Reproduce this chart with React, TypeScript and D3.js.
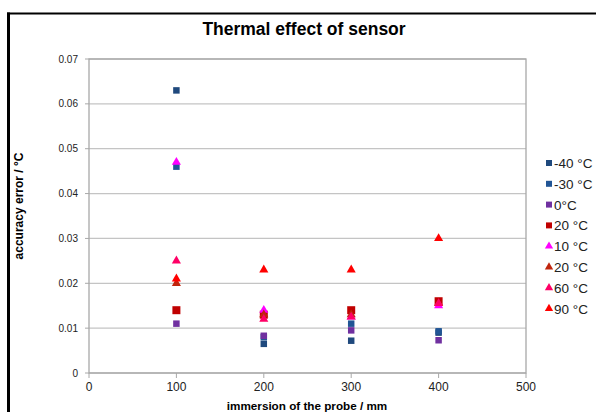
import React from "react";
import * as d3 from "d3";

const depths = [100, 200, 300, 400];
const m40 = [0.063, 0.0065, 0.0072, 0.009];
const m30 = [0.046, 0.008, 0.011, 0.0093];
const zero = [0.011, 0.0083, 0.0095, 0.0073];
const sq20 = [0.014, 0.013, 0.014, 0.016];
const t10 = [0.047, 0.014, 0.0125, 0.015];
const t20 = [0.02, 0.013, 0.013, 0.0155];
const t60 = [0.025, 0.012, 0.0125, 0.0155];
const t90 = [0.021, 0.023, 0.023, 0.03];
const seriesNames = ["-40 °C", "-30 °C", "0°C", "20 °C", "10 °C", "20 °C", "60 °C", "90 °C"];
const seriesColors = ["#1F497D", "#215595", "#7030A0", "#C00000", "#FF00FF", "#C0250D", "#FF0066", "#FF0000"];
const seriesShapes = ["square", "square", "square", "square", "triangle", "triangle", "triangle", "triangle"];
const seriesValues = [m40, m30, zero, sq20, t10, t20, t60, t90];
const xTicks = [0, 100, 200, 300, 400, 500];
const yTicks = [0, 0.01, 0.02, 0.03, 0.04, 0.05, 0.06, 0.07];

const W = 596, H = 412;
const left = 89, right = 526, top = 59, bottom = 373;

export default function App() {
  const x = d3.scaleLinear().domain([0, 500]).range([left, right]);
  const y = d3.scaleLinear().domain([0, 0.07]).range([bottom, top]);
  const sym = (shape: string, size: number) =>
    d3.symbol().type(shape === "square" ? d3.symbolSquare : d3.symbolTriangle).size(size)() as string;
  const font = "'Liberation Sans', Arial, sans-serif";

  return (
    <svg width={W} height={H} style={{ position: "absolute", left: 0, top: 0, background: "#fff" }} fontFamily={font}>
      <rect x={0} y={0} width={W} height={H} fill="#fff" />
      {/* outer frame */}
      <line x1={7} x2={W} y1={13.5} y2={13.5} stroke="#000" strokeWidth={2} />
      <line x1={8.5} x2={8.5} y1={12.5} y2={H} stroke="#000" strokeWidth={3} />
      {/* title */}
      <text x={304} y={35} textAnchor="middle" fontSize={17.5} fontWeight="bold" fill="#000">
        Thermal effect of sensor
      </text>
      {/* gridlines */}
      {yTicks.map((t) => (
        <line key={"g" + t} x1={left} x2={right} y1={y(t)} y2={y(t)} stroke="#c4c4c4" strokeWidth={1.3} />
      ))}
      {/* plot frame */}
      <rect x={left} y={top} width={right - left} height={bottom - top} fill="none" stroke="#a8a8a8" strokeWidth={1.3} />
      {/* y ticks */}
      {yTicks.map((t) => (
        <g key={"y" + t}>
          <line x1={left - 4} x2={left} y1={y(t)} y2={y(t)} stroke="#a8a8a8" />
          <text x={78} y={y(t) + 3.5} textAnchor="end" fontSize={10} fill="#222">
            {t === 0 ? "0" : t.toFixed(2)}
          </text>
        </g>
      ))}
      {/* x ticks */}
      {xTicks.map((t) => (
        <g key={"x" + t}>
          <line x1={x(t)} x2={x(t)} y1={bottom} y2={bottom + 5} stroke="#a8a8a8" />
          <text x={x(t)} y={391} textAnchor="middle" fontSize={12} fill="#222">
            {t}
          </text>
        </g>
      ))}
      {/* axis titles */}
      <text x={307} y={410} textAnchor="middle" fontSize={11.7} fontWeight="bold" fill="#000">
        immersion of the probe / mm
      </text>
      <text transform={`translate(23,206) rotate(-90)`} textAnchor="middle" fontSize={12} fontWeight="bold" fill="#000">
        accuracy error / °C
      </text>
      {/* points */}
      {seriesValues.map((vals, si) => (
        <g key={"s" + si} fill={seriesColors[si]}>
          {vals.map((v, i) => (
            <path
              key={i}
              transform={`translate(${x(depths[i])},${y(v)})`}
              d={sym(seriesShapes[si], seriesShapes[si] === "square" ? (si === 3 ? 64 : 42) : 36)}
            />
          ))}
        </g>
      ))}
      {/* legend */}
      {seriesNames.map((n, i) => {
        const ly = 163 + i * 20.8;
        return (
          <g key={"l" + i}>
            <path
              transform={`translate(${549},${ly})`}
              fill={seriesColors[i]}
              d={sym(seriesShapes[i], seriesShapes[i] === "square" ? 36 : 30)}
            />
            <text x={554} y={ly + 5} fontSize={13.5} fill="#222">
              {n}
            </text>
          </g>
        );
      })}
    </svg>
  );
}
